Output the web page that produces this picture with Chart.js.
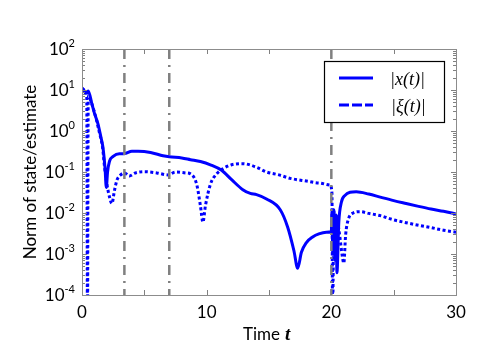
<!DOCTYPE html>
<html lang="en">
<head>
  <meta charset="UTF-8">
  <title>Norm of state/estimate</title>
  <script src="https://cdn.jsdelivr.net/npm/chart.js"></script>
  <style>
    body { margin: 0; background: #fff; }
  </style>
</head>
<body>
  <canvas id="normChart" width="491" height="359"></canvas>

  <script>
    // |x(t)|
    const tState = [0, 0.15, 0.28, 0.5, 0.8, 1.0, 1.28, 1.5, 1.68, 1.85, 1.95, 2.05, 2.2, 2.5, 3.0, 3.4, 4.0, 4.5, 5.5, 6.5, 7.0, 8.0, 8.7, 9.5, 10.3, 11.2, 12.0, 12.9, 13.5, 14.0, 14.8, 15.9, 16.5, 17.0, 17.3, 17.6, 18.0, 18.5, 19.0, 19.6, 20.0, 20.05, 20.12, 20.2, 20.3, 20.38, 20.45, 20.6, 20.8, 21.1, 21.5, 22.0, 23, 24, 25, 26, 27, 28, 29, 30];
    const stateNorm = [11, 10, 8.3, 9.5, 4.5, 2.7, 1.5, 0.75, 0.4, 0.12, 0.042, 0.1, 0.18, 0.24, 0.28, 0.28, 0.32, 0.32, 0.3, 0.25, 0.235, 0.22, 0.2, 0.18, 0.15, 0.11, 0.065, 0.037, 0.03, 0.028, 0.022, 0.012, 0.0045, 0.0012, 0.00045, 0.0011, 0.0019, 0.0026, 0.0031, 0.0034, 0.0035, 0.011, 0.001, 0.012, 0.0007, 0.009, 0.00035, 0.006, 0.018, 0.027, 0.032, 0.033, 0.029, 0.024, 0.02, 0.017, 0.0145, 0.0125, 0.011, 0.0095];

    // |xi(t)|
    const tEst = [0, 0.2, 0.38, 0.44, 0.5, 0.8, 1.1, 1.4, 1.65, 1.8, 2.0, 2.2, 2.4, 2.6, 2.8, 3.1, 3.4, 3.8, 4.3, 5.0, 6.0, 6.9, 7.5, 8.3, 8.7, 9.2, 9.5, 9.7, 9.9, 10.3, 10.8, 11.3, 12.0, 12.9, 14.0, 14.8, 15.8, 16.7, 18.0, 19.0, 19.9, 20.05, 20.1, 20.2, 20.3, 20.6, 20.9, 21.0, 21.15, 21.35, 21.75, 22.3, 23, 24, 25, 26, 27, 28, 29, 30];
    const estNorm = [11, 10, 8, 0.00002, 7, 4.5, 2.2, 0.9, 0.4, 0.14, 0.05, 0.025, 0.017, 0.035, 0.063, 0.085, 0.095, 0.08, 0.095, 0.102, 0.095, 0.085, 0.1, 0.095, 0.09, 0.05, 0.015, 0.006, 0.015, 0.05, 0.09, 0.12, 0.15, 0.16, 0.13, 0.1, 0.085, 0.07, 0.06, 0.054, 0.048, 0.03, 0.00003, 0.008, 0.01, 0.004, 0.0008, 0.0006, 0.003, 0.0068, 0.01, 0.0108, 0.0098, 0.0085, 0.0068, 0.0058, 0.005, 0.0044, 0.0038, 0.0034];

    // switching instants (dash-dot lines)
    const switchTimes = [3.4, 7.0, 20.0];

    const xTicks = [0, 10, 20, 30];
    const xMinorTicks = [5, 15, 25];
    const yExponents = [-4, -3, -2, -1, 0, 1, 2];

    const blue = 'rgb(0, 0, 255)';
    const gray = 'rgb(128, 128, 128)';
    const font = 'Lato';

    const toPoints = (ts, vs) => ts.map((t, i) => ({ x: t, y: vs[i] }));

    const datasets = [
      {
        label: '|x(t)|',
        data: toPoints(tState, stateNorm),
        borderColor: blue,
        borderWidth: 3,
        pointRadius: 0,
        cubicInterpolationMode: 'monotone'
      },
      {
        label: '|ξ(t)|',
        data: toPoints(tEst, estNorm),
        borderColor: blue,
        borderWidth: 3,
        borderDash: [3, 2.5],
        pointRadius: 0,
        cubicInterpolationMode: 'monotone'
      }
    ];
    switchTimes.forEach(t => {
      datasets.unshift({
        label: 'switch',
        data: [{ x: t, y: 1e2 }, { x: t, y: 1e-4 }],
        borderColor: gray,
        borderWidth: 2.5,
        borderDash: [10, 6, 2, 6],
        pointRadius: 0
      });
    });

    // frame, inward ticks, tick labels, titles and legend
    const decorations = {
      id: 'decorations',
      afterDraw(chart) {
        const { ctx, chartArea: a, scales: { x, y } } = chart;
        ctx.save();

        // ticks
        ctx.strokeStyle = gray;
        ctx.lineWidth = 1;
        ctx.beginPath();
        xTicks.concat(xMinorTicks).forEach(v => {
          const px = Math.round(x.getPixelForValue(v)) + 0.5;
          ctx.moveTo(px, a.bottom); ctx.lineTo(px, a.bottom - 5);
          ctx.moveTo(px, a.top); ctx.lineTo(px, a.top + 5);
        });
        yExponents.forEach(e => {
          for (let m = 1; m <= 9; m++) {
            if (e === 2 && m > 1) break;
            const py = Math.round(y.getPixelForValue(m * Math.pow(10, e))) + 0.5;
            const len = m === 1 ? 5 : 3;
            ctx.moveTo(a.left, py); ctx.lineTo(a.left + len, py);
            ctx.moveTo(a.right, py); ctx.lineTo(a.right - len, py);
          }
        });
        ctx.stroke();

        // frame
        ctx.strokeStyle = 'rgb(140, 140, 140)';
        ctx.strokeRect(a.left + 0.5, a.top + 0.5, a.right - a.left, a.bottom - a.top);

        // x tick labels
        ctx.fillStyle = '#000';
        ctx.font = '17px ' + font;
        ctx.textAlign = 'center';
        ctx.textBaseline = 'top';
        xTicks.forEach(v => ctx.fillText(String(v), x.getPixelForValue(v), a.bottom + 9));

        // y tick labels 10^e
        yExponents.forEach(e => {
          const py = y.getPixelForValue(Math.pow(10, e));
          const exp = e < 0 ? '-' + (-e) : String(e);
          ctx.font = '11px ' + font;
          const ew = ctx.measureText(exp).width;
          ctx.textAlign = 'left';
          ctx.textBaseline = 'alphabetic';
          ctx.fillText(exp, a.left - 7 - ew, py - 2);
          ctx.font = '17px ' + font;
          ctx.textAlign = 'right';
          ctx.textBaseline = 'middle';
          ctx.fillText('10', a.left - 7 - ew, py + 1);
        });

        // x title
        ctx.font = '17px ' + font;
        ctx.textAlign = 'left';
        ctx.textBaseline = 'alphabetic';
        ctx.fillText('Time', 243, 340);
        ctx.font = 'italic bold 19px "Liberation Serif"';
        ctx.fillText('t', 285, 340);

        // y title
        ctx.save();
        ctx.translate(31, (a.top + a.bottom) / 2);
        ctx.rotate(-Math.PI / 2);
        ctx.font = '17px ' + font;
        ctx.textAlign = 'center';
        ctx.textBaseline = 'middle';
        ctx.fillText('Norm of state/estimate', 0, 0);
        ctx.restore();

        // legend
        ctx.fillStyle = '#fff';
        ctx.fillRect(324, 61, 120, 61);
        ctx.strokeStyle = '#000';
        ctx.lineWidth = 1.2;
        ctx.strokeRect(324.5, 61.5, 120, 61);
        ctx.strokeStyle = blue;
        ctx.lineWidth = 3;
        ctx.beginPath();
        ctx.moveTo(339, 78); ctx.lineTo(373, 78);
        ctx.stroke();
        ctx.setLineDash([10, 3]);
        ctx.beginPath();
        ctx.moveTo(339, 105); ctx.lineTo(373, 105);
        ctx.stroke();
        ctx.setLineDash([]);
        ctx.fillStyle = '#000';
        ctx.font = 'italic 18px "Liberation Serif"';
        ctx.textAlign = 'left';
        ctx.textBaseline = 'middle';
        ctx.fillText('|x(t)|', 390, 80);
        ctx.fillText('|ξ(t)|', 391, 107);

        ctx.restore();
      }
    };

    new Chart(document.getElementById('normChart').getContext('2d'), {
      type: 'line',
      data: { datasets },
      options: {
        responsive: false,
        animation: false,
        layout: { padding: { left: 82, top: 49, right: 35, bottom: 64 } },
        plugins: { legend: { display: false }, tooltip: { enabled: false } },
        scales: {
          x: { type: 'linear', min: 0, max: 30, display: false },
          y: { type: 'logarithmic', min: 1e-4, max: 1e2, display: false }
        }
      },
      plugins: [decorations]
    });
  </script>
</body>
</html>
